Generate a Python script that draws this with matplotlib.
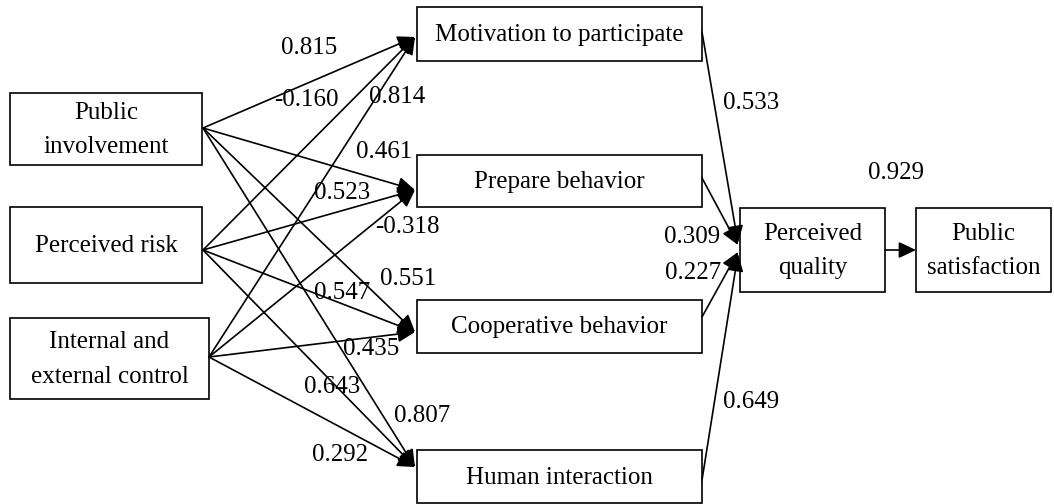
import matplotlib.pyplot as plt
from matplotlib.patches import Rectangle

plt.rcParams['font.family'] = ['Liberation Serif', 'DejaVu Serif']

# node labels
causes = ["Public\ninvolvement", "Perceived risk", "Internal and\nexternal control"]
behaviors = ["Motivation to participate", "Prepare behavior",
             "Cooperative behavior", "Human interaction"]
quality = "Perceived\nquality"
satisfaction = "Public\nsatisfaction"

# path coefficients: causes -> behaviors (row = cause, col = behavior)
coef_cause = [[0.815, 0.461, 0.551, 0.807],
              [-0.160, 0.523, 0.547, 0.643],
              [0.814, -0.318, 0.435, 0.292]]
# behaviors -> perceived quality
coef_behav = [0.533, 0.309, 0.227, 0.649]
# perceived quality -> satisfaction
coef_sat = 0.929

# ---- layout (pixel coordinates) ----
cause_boxes = [(10, 93, 192, 72), (10, 207, 192, 76), (10, 318, 199, 81)]
cause_out = [(203, 128), (203, 250), (209, 357)]
behav_boxes = [(417, 7, 285, 54), (417, 155, 285, 52),
               (417, 300, 285, 53), (417, 450, 285, 53)]
behav_in = [(415, 37), (415, 190), (415, 332), (415, 467)]
behav_out = [(702, 32), (702, 178), (702, 317), (702, 480)]
q_box = (740, 208, 145, 84)
s_box = (916, 208, 135, 84)
q_in = [(738, 243), (738, 245), (738, 252), (738, 254)]

lab_cause = [[(309, 48), (384, 152), (408, 279), (422, 416)],
             [(306, 100), (342, 193), (342, 293), (332, 387)],
             [(397, 97), (407, 227), (371, 349), (340, 455)]]
lab_behav = [(751, 103), (692, 237), (693, 273), (751, 402)]
lab_sat = (896, 173)

fs = 18

fig = plt.figure(figsize=(10.54, 5.04), dpi=100)
ax = fig.add_axes([0, 0, 1, 1])
ax.set_xlim(0, 1054)
ax.set_ylim(504, 0)
ax.axis('off')


def box(b, text):
    x, y, w, h = b
    ax.add_patch(Rectangle((x, y), w, h, fill=False, ec='black', lw=1.2))
    ax.text(x + w / 2, y + h / 2 + 1, text, ha='center', va='center',
            fontsize=fs, linespacing=1.75)


def arrow(p0, p1):
    ax.annotate("", xy=p1, xytext=p0,
                arrowprops=dict(arrowstyle="-|>,head_length=0.7,head_width=0.33",
                                color='black', lw=1.2, shrinkA=0, shrinkB=0,
                                mutation_scale=15))


for b, t in zip(cause_boxes, causes):
    box(b, t)
for b, t in zip(behav_boxes, behaviors):
    box(b, t)
box(q_box, quality)
box(s_box, satisfaction)

for i in range(len(causes)):
    for j in range(len(behaviors)):
        arrow(cause_out[i], behav_in[j])
        ax.text(*lab_cause[i][j], f"{coef_cause[i][j]:.3f}", ha='center',
                va='center', fontsize=fs)

for j in range(len(behaviors)):
    arrow(behav_out[j], q_in[j])
    ax.text(*lab_behav[j], f"{coef_behav[j]:.3f}", ha='center', va='center',
            fontsize=fs)

arrow((q_box[0] + q_box[2], 250), (s_box[0], 250))
ax.text(*lab_sat, f"{coef_sat:.3f}", ha='center', va='center', fontsize=fs)

fig.savefig("out.png", dpi=100)
